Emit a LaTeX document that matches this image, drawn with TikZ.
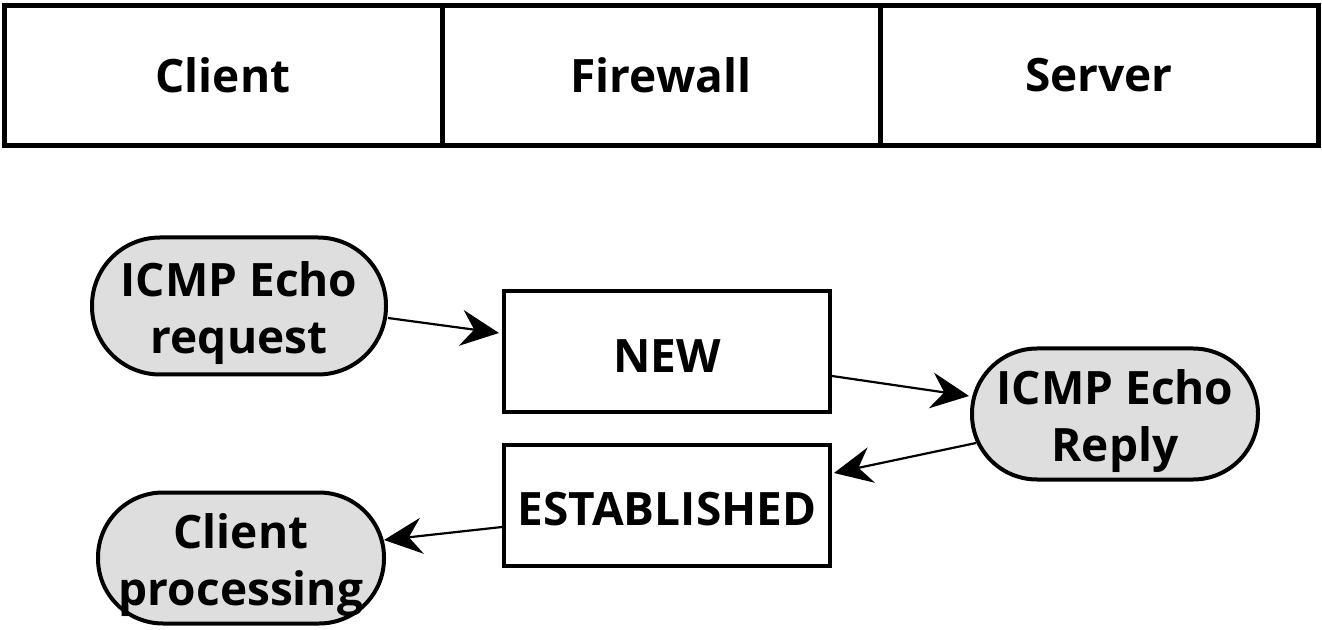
\documentclass[tikz,border=0pt]{standalone}
\usepackage{fontspec}
\setmainfont{Open Sans}
\usepackage{xcolor}
\definecolor{StateGray}{HTML}{DEDEDE}
\usetikzlibrary{arrows.meta,positioning,calc}

\begin{document}
\begin{tikzpicture}[
  x=0.5pt, y=-0.5pt,
  ->, >={Stealth[length=19pt,width=18pt,inset=6.5pt]},
  font=\bfseries,
  head/.style={draw,line width=2.5pt,outer sep=0pt,inner sep=0pt,
    minimum width=219pt,minimum height=70pt,
    font=\fontsize{23}{27}\selectfont\bfseries},
  conn/.style={draw,line width=2pt,minimum width=163pt,minimum height=60.5pt,
    inner sep=0pt,font=\fontsize{23}{28}\selectfont\bfseries,
    execute at begin node={\rule{0pt}{21pt}}},
  packet/.style={draw,line width=2pt,fill=StateGray,rounded corners=32.5pt,
    inner sep=0pt,align=center,text height=53pt,
    font=\fontsize{23}{28.5}\selectfont\bfseries},
  every edge/.append style={line width=1.1pt}
  ]
  \useasboundingbox (0,0) rectangle (1322,630);

  % header row
  \node[head]  (hClient)                        at (223,75.5) {Client};
  \node[head]  (hFirewall) [right=0pt of hClient]             {Firewall};
  \node[head]  (hServer)   [right=0pt of hFirewall]           {Server};

  % states and packets
  \node[packet,rounded corners=34pt,minimum width=147pt,minimum height=68.5pt] (req)  at (239,306)  {ICMP Echo\\request};
  \node[conn]                                             (new)  at (667,352)  {NEW};
  \node[packet,minimum width=143pt,minimum height=65.5pt] (rep)  at (1115,414) {ICMP Echo\\Reply};
  \node[conn]                                             (est)  at (667,505)  {ESTABLISHED};
  \node[packet,minimum width=143pt,minimum height=65.5pt] (proc) at (241,558)  {Client\\processing};

  \path[->]
    ($(req.east)+(0,12)$)  edge ($(new.west)+(-3,-19)$)
    ($(new.east)+(0,24)$)  edge ($(rep.west)+(-1,-18)$)
    ($(rep.west)+(6,29)$)  edge ($(est.east)+(2,-32)$)
    ($(est.west)+(0,22)$)  edge ($(proc.east)+(-2,-18)$)
    ;
\end{tikzpicture}
\end{document}
